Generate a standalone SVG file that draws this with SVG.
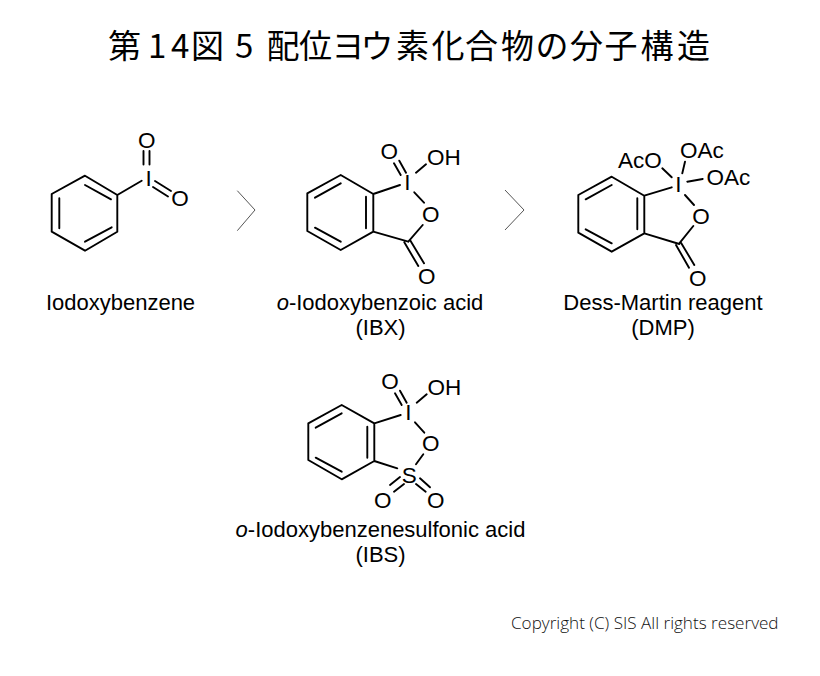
<svg xmlns="http://www.w3.org/2000/svg" width="820" height="676" viewBox="0 0 820 676">
<style>
.b{stroke:#000;stroke-width:1.9;fill:none;stroke-linecap:round;stroke-linejoin:round}
.chev{stroke:#555;stroke-width:1;fill:none}
text{font-family:"Liberation Sans",Arial,sans-serif;fill:#000}
.a{font-size:22.5px;dominant-baseline:central;text-anchor:middle}
.s{font-size:22.5px;dominant-baseline:central}
.l{font-size:22px;text-anchor:middle}
.t{font-family:"Noto Sans CJK JP","Noto Sans",sans-serif;font-size:33px}
.c{font-family:"Open Sans","Noto Sans",sans-serif;font-size:17.1px;font-weight:300;fill:#111}
</style>
<rect width="820" height="676" fill="#fff"/>
<g id="title"><text class="t" y="58" x="108 148 171 191 225 235 258 266.5 299 331.5 360.5 396 431.5 465 501 535.5 570 604.5 640.5 677">第14図 5 配位ヨウ素化合物の分子構造</text></g>
<g id="connectors">
<path class="chev" d="M237.3 190.7L255 210L237.3 230.7"/>
<path class="chev" d="M505 190L524 210L505 230"/>
</g>
<g id="iodoxybenzene">
<path class="b" d="M85 175.7L117.3 195V231.7L85 250.7L51.7 231.7V194ZM85 185L111 199.3M59.3 198.3V228.3M85 241.7L111.7 227.3M117.3 195L141.7 180.7M143.5 151V164.5M149.5 151V164.5M155 181L171 191M153 187L168 196.5"/>
<text class="a" x="148.7" y="178">I</text><text class="a" x="146.7" y="140">O</text><text class="a" x="180" y="198.3">O</text>
<text class="l" x="120.500" y="310">Iodoxybenzene</text>
</g>
<g id="ibx">
<path class="b" d="M340.7 175L373.3 194V231.7L340.7 250L307.3 231V193.3ZM315 197.7L340.7 183.3M366 196.7V228.3M315 227.700L340.7 241.700M373.3 194L400 185M394 163.3L400.7 175M399.3 160.7L406 172.700M416 172.700L426 164.3M414.3 192.3L424 202.700M422.700 225L408.3 241.700M373.3 231.700L408.3 241.700M404.3 242.3L418.3 266M410 240L424 263.3"/>
<text class="a" x="407.300" y="182.500">I</text><text class="a" x="389.300" y="151.700">O</text><text class="s" x="427" y="157.300">OH</text><text class="a" x="430.700" y="214.300">O</text><text class="a" x="426.700" y="276.700">O</text>
<text class="l" x="380" y="310"><tspan font-style="italic">o</tspan>-Iodoxybenzoic acid</text><text class="l" x="380.500" y="335">(IBX)</text>
</g>
<g id="dmp">
<path class="b" d="M611.7 176.700L644.3 195.700V233.3L611.7 251.700L578.3 232.700V195ZM585.700 199.3L611.7 185M637.3 198.3V229.3M585.700 229.3L611.7 243.3M644.3 195.700L671.700 187.3M662.3 168.3L671.700 177.3M685 161.700L682.3 173.3M687.3 181.700L702.700 179M685 195L694 205M693.3 226L679.3 243.300M644.3 233.3L679.3 244M676 245L689 267.700M681 242.700L694.3 265"/>
<text class="a" x="678.300" y="184.500">I</text><text class="s" x="618" y="160">AcO</text><text class="s" x="680" y="150">OAc</text><text class="s" x="706.500" y="177.300">OAc</text><text class="a" x="701" y="216">O</text><text class="a" x="697.700" y="278.300">O</text>
<text class="l" x="663" y="310">Dess-Martin reagent</text><text class="l" x="663" y="335">(DMP)</text>
</g>
<g id="ibs">
<path class="b" d="M341.700 405L374.300 423.300V461L341.700 479.300L308.300 460V423.300ZM315.700 427.700L341.700 413.300M367.300 426.700V457.700M315.700 457.700L341.700 471.700M374.300 423.300L400.700 415M395 393.300L401.700 405M400 390.700L406.700 402.700M416.700 402.700L426.700 394.300M415 422.300L424.300 432.700M423.300 454.300L416 464.300M374.300 461L397.300 468.300M390 485L400 477M394 491.700L404 484M416 484L425.700 491.700M420 478.300L430 487.300"/>
<text class="a" x="408.300" y="412.500">I</text><text class="a" x="390" y="381.700">O</text><text class="s" x="427.500" y="387.300">OH</text><text class="a" x="430.700" y="443.300">O</text><text class="a" x="409.300" y="475">S</text><text class="a" x="382.700" y="500">O</text><text class="a" x="435.700" y="500">O</text>
<text class="l" x="380.500" y="537"><tspan font-style="italic">o</tspan>-Iodoxybenzenesulfonic acid</text><text class="l" x="380.500" y="562">(IBS)</text>
</g>
<g id="copyright"><text class="c" x="511" y="629">Copyright (C) SIS All rights reserved</text></g>
</svg>
